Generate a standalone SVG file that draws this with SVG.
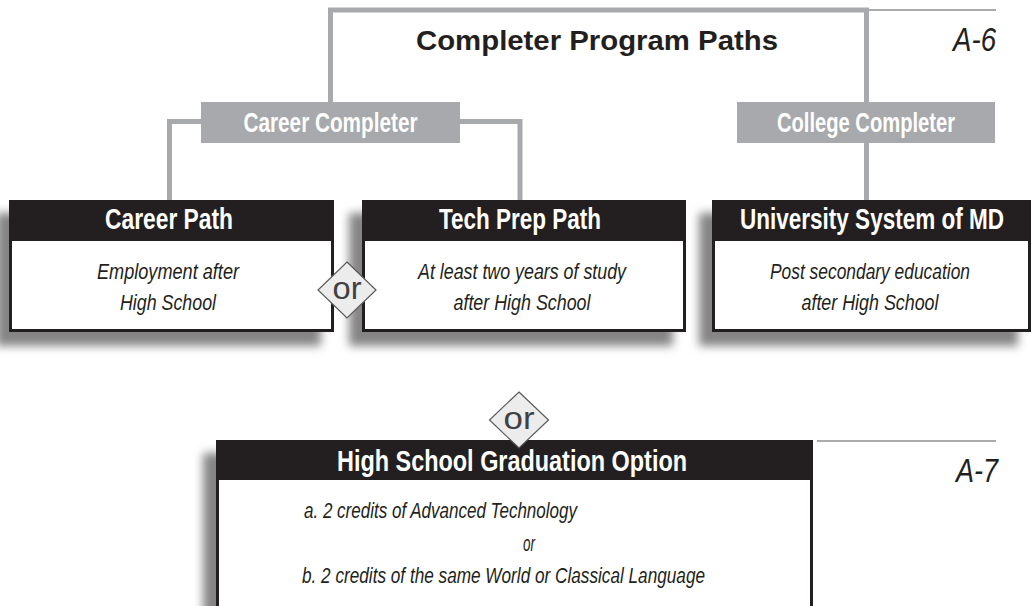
<svg xmlns="http://www.w3.org/2000/svg" width="1032" height="606" viewBox="0 0 1032 606">
<defs>
<filter id="blur" x="-10%" y="-15%" width="120%" height="130%">
<feGaussianBlur stdDeviation="5"/>
</filter>
<style>
.conn{fill:none;stroke:#a7a9ac;stroke-width:5;stroke-linejoin:miter}
.rule{stroke:#58595b;stroke-width:1.2}
.sh{fill:#858585;filter:url(#blur)}
.frame{fill:#fff;stroke:#231f20;stroke-width:3}
.hdr{fill:#231f20}
.tag{fill:#a7a9ac}
.htext{font-family:"Liberation Sans Narrow","Liberation Sans",Arial,sans-serif;font-weight:bold;font-size:29px;fill:#fff;text-anchor:middle}
.tagtext{font-family:"Liberation Sans Narrow","Liberation Sans",Arial,sans-serif;font-weight:bold;font-size:27px;fill:#fff;text-anchor:middle}
.body{font-family:"Liberation Sans Narrow","Liberation Sans",Arial,sans-serif;font-style:italic;font-size:22px;fill:#231f20}
.mid{text-anchor:middle}
.title{font-family:"Liberation Sans",Arial,sans-serif;font-weight:bold;font-size:27px;fill:#231f20;text-anchor:middle}
.code{font-family:"Liberation Sans Narrow","Liberation Sans",Arial,sans-serif;font-style:italic;font-size:34px;fill:#231f20;text-anchor:end}
.ord{fill:#ececec;stroke:#58595b;stroke-width:1.2}
.ort{font-family:"Liberation Sans",Arial,sans-serif;font-size:31px;fill:#414042;text-anchor:middle}
</style>
</defs>
<rect width="1032" height="606" fill="#fff"/>

<g id="headings">
<text class="title" x="597" y="50" textLength="362" lengthAdjust="spacingAndGlyphs">Completer Program Paths</text>
<line class="rule" x1="866" y1="10" x2="996" y2="10"/>
<text class="code" x="996" y="51" textLength="43" lengthAdjust="spacingAndGlyphs">A-6</text>
<line class="rule" x1="817" y1="441" x2="996" y2="441"/>
<text class="code" x="998" y="482" textLength="42" lengthAdjust="spacingAndGlyphs">A-7</text>
</g>

<g id="connectors">
<polyline class="conn" points="330.5,102 330.5,10 866.5,10 866.5,102"/>
<polyline class="conn" points="201,121.5 169.5,121.5 169.5,200"/>
<polyline class="conn" points="460,121.5 520,121.5 520,200"/>
<line class="conn" x1="866.5" y1="143" x2="866.5" y2="200"/>
</g>

<g id="career-completer">
<rect class="tag" x="201" y="102" width="259" height="41"/>
<text class="tagtext" x="330.5" y="131.5" textLength="174" lengthAdjust="spacingAndGlyphs">Career Completer</text>
</g>

<g id="college-completer">
<rect class="tag" x="737" y="102" width="258" height="41"/>
<text class="tagtext" x="866" y="131.5" textLength="178" lengthAdjust="spacingAndGlyphs">College Completer</text>
</g>

<g id="career-path">
<rect class="sh" x="-4" y="213" width="325" height="133"/>
<rect class="frame" x="10.5" y="201.5" width="322" height="129"/>
<rect class="hdr" x="9" y="200" width="325" height="41"/>
<text class="htext" x="169" y="229" textLength="128" lengthAdjust="spacingAndGlyphs">Career Path</text>
<text class="body mid" x="168" y="279" textLength="142" lengthAdjust="spacingAndGlyphs">Employment after</text>
<text class="body mid" x="168" y="310" textLength="96" lengthAdjust="spacingAndGlyphs">High School</text>
</g>

<g id="tech-prep-path">
<rect class="sh" x="349" y="213" width="324" height="133"/>
<rect class="frame" x="363.5" y="201.5" width="321" height="129"/>
<rect class="hdr" x="362" y="200" width="324" height="41"/>
<text class="htext" x="520" y="229" textLength="162" lengthAdjust="spacingAndGlyphs">Tech Prep Path</text>
<text class="body mid" x="522" y="279" textLength="208" lengthAdjust="spacingAndGlyphs">At least two years of study</text>
<text class="body mid" x="522" y="310" textLength="137" lengthAdjust="spacingAndGlyphs">after High School</text>
</g>

<g id="university-system">
<rect class="sh" x="699" y="213" width="319" height="133"/>
<rect class="frame" x="713.5" y="201.5" width="316" height="129"/>
<rect class="hdr" x="712" y="200" width="319" height="41"/>
<text class="htext" x="872" y="229" textLength="264" lengthAdjust="spacingAndGlyphs">University System of MD</text>
<text class="body mid" x="870" y="279" textLength="200" lengthAdjust="spacingAndGlyphs">Post secondary education</text>
<text class="body mid" x="870" y="310" textLength="137" lengthAdjust="spacingAndGlyphs">after High School</text>
</g>

<g id="hs-graduation-option">
<rect class="sh" x="203" y="453" width="597" height="200"/>
<rect class="frame" x="217.5" y="441.5" width="594" height="200"/>
<rect class="hdr" x="216" y="440" width="597" height="40"/>
<text class="htext" x="512" y="471" textLength="350" lengthAdjust="spacingAndGlyphs">High School Graduation Option</text>
<text class="body" x="304" y="518" textLength="273" lengthAdjust="spacingAndGlyphs">a. 2 credits of Advanced Technology</text>
<text class="body" x="523" y="551" textLength="12" lengthAdjust="spacingAndGlyphs">or</text>
<text class="body" x="302" y="583" textLength="403" lengthAdjust="spacingAndGlyphs">b. 2 credits of the same World or Classical Language</text>
</g>

<g id="or-top">
<polygon class="ord" points="347,262 376,290 347,318 318,290"/>
<text class="ort" x="347" y="298.5" textLength="29" lengthAdjust="spacingAndGlyphs">or</text>
</g>

<g id="or-bottom">
<polygon class="ord" points="519,392 548.5,420 519,448 489.5,420"/>
<text class="ort" x="519" y="428.5" textLength="31" lengthAdjust="spacingAndGlyphs">or</text>
</g>
</svg>
